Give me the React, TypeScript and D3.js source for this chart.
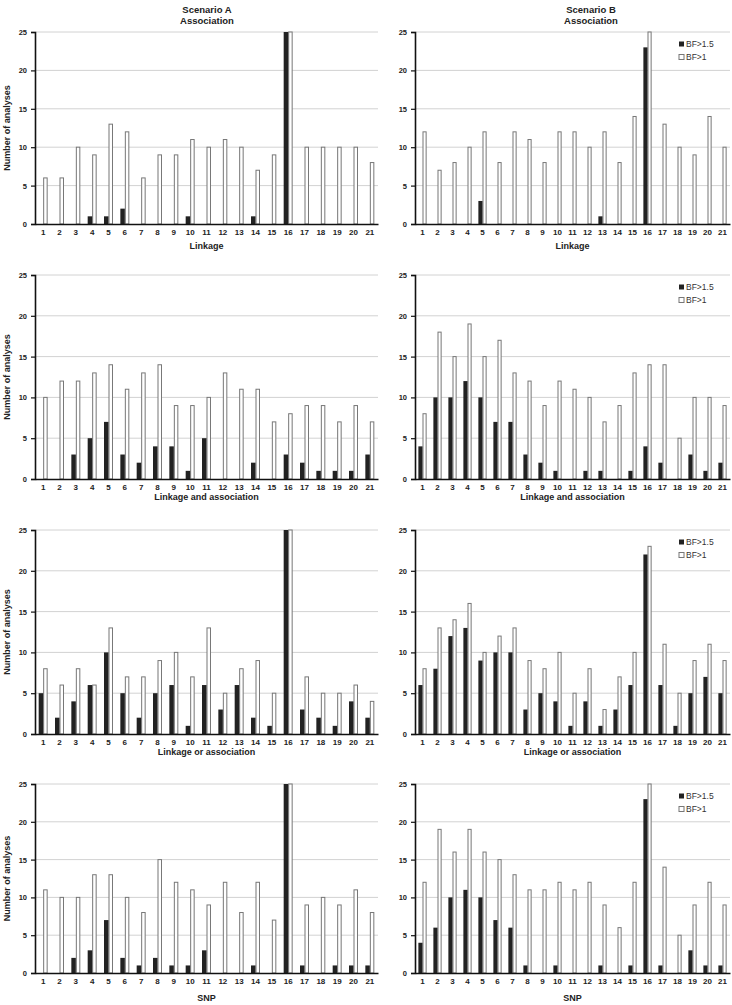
import React, { useRef, useEffect } from "react";
import * as d3 from "d3";

const categories = d3.range(1, 22).map(String);
const yTicks = [0, 5, 10, 15, 20, 25];
const seriesNames = ["BF>1.5", "BF>1"];

// Scenario A
const aLinkBF15 = [0, 0, 0, 1, 1, 2, 0, 0, 0, 1, 0, 0, 0, 1, 0, 25, 0, 0, 0, 0, 0];
const aLinkBF1 = [6, 6, 10, 9, 13, 12, 6, 9, 9, 11, 10, 11, 10, 7, 9, 25, 10, 10, 10, 10, 8];
const aAndBF15 = [0, 0, 3, 5, 7, 3, 2, 4, 4, 1, 5, 0, 0, 2, 0, 3, 2, 1, 1, 1, 3];
const aAndBF1 = [10, 12, 12, 13, 14, 11, 13, 14, 9, 9, 10, 13, 11, 11, 7, 8, 9, 9, 7, 9, 7];
const aOrBF15 = [5, 2, 4, 6, 10, 5, 2, 5, 6, 1, 6, 3, 6, 2, 1, 25, 3, 2, 1, 4, 2];
const aOrBF1 = [8, 6, 8, 6, 13, 7, 7, 9, 10, 7, 13, 5, 8, 9, 5, 25, 7, 5, 5, 6, 4];
const aSnpBF15 = [0, 0, 2, 3, 7, 2, 1, 2, 1, 1, 3, 0, 0, 1, 0, 25, 1, 0, 1, 1, 1];
const aSnpBF1 = [11, 10, 10, 13, 13, 10, 8, 15, 12, 11, 9, 12, 8, 12, 7, 25, 9, 10, 9, 11, 8];

// Scenario B
const bLinkBF15 = [0, 0, 0, 0, 3, 0, 0, 0, 0, 0, 0, 0, 1, 0, 0, 23, 0, 0, 0, 0, 0];
const bLinkBF1 = [12, 7, 8, 10, 12, 8, 12, 11, 8, 12, 12, 10, 12, 8, 14, 25, 13, 10, 9, 14, 10];
const bAndBF15 = [4, 10, 10, 12, 10, 7, 7, 3, 2, 1, 0, 1, 1, 0, 1, 4, 2, 0, 3, 1, 2];
const bAndBF1 = [8, 18, 15, 19, 15, 17, 13, 12, 9, 12, 11, 10, 7, 9, 13, 14, 14, 5, 10, 10, 9];
const bOrBF15 = [6, 8, 12, 13, 9, 10, 10, 3, 5, 4, 1, 4, 1, 3, 6, 22, 6, 1, 5, 7, 5];
const bOrBF1 = [8, 13, 14, 16, 10, 12, 13, 9, 8, 10, 5, 8, 3, 7, 10, 23, 11, 5, 9, 11, 9];
const bSnpBF15 = [4, 6, 10, 11, 10, 7, 6, 1, 0, 1, 0, 0, 1, 0, 1, 23, 1, 0, 3, 1, 1];
const bSnpBF1 = [12, 19, 16, 19, 16, 15, 13, 11, 11, 12, 11, 12, 9, 6, 12, 25, 14, 5, 9, 12, 9];

const xTitles = ["Linkage", "Linkage and association", "Linkage or association", "SNP"];
const colTitles = ["Scenario A", "Scenario B"];

const panels = [
  [aLinkBF15, aLinkBF1, bLinkBF15, bLinkBF1],
  [aAndBF15, aAndBF1, bAndBF15, bAndBF1],
  [aOrBF15, aOrBF1, bOrBF15, bOrBF1],
  [aSnpBF15, aSnpBF1, bSnpBF15, bSnpBF1],
];

function App() {
  const svgRef = useRef<SVGSVGElement>(null);

  useEffect(() => {
    const svg = d3.select(svgRef.current);
    svg.selectAll("*").remove();
    const font = "'Liberation Sans', Arial, sans-serif";

    const rows = [
      { top: 32, bottom: 224, titleY: 246 },
      { top: 275, bottom: 479, titleY: 497 },
      { top: 530, bottom: 734, titleY: 752 },
      { top: 784, bottom: 973, titleY: 998 },
    ];
    const cols = [
      { left: 35, right: 378, headX: 207 },
      { left: 415, right: 730, headX: 591 },
    ];

    cols.forEach((c, ci) => {
      svg.append("text")
        .attr("x", c.headX).attr("y", 13)
        .attr("text-anchor", "middle")
        .attr("font-family", font).attr("font-size", 9.5).attr("font-weight", "bold")
        .attr("fill", "#222")
        .text(colTitles[ci]);
      svg.append("text")
        .attr("x", c.headX).attr("y", 24)
        .attr("text-anchor", "middle")
        .attr("font-family", font).attr("font-size", 9.5).attr("font-weight", "bold")
        .attr("fill", "#222")
        .text("Association");
    });

    rows.forEach((r, ri) => {
      cols.forEach((c, ci) => {
        const black = panels[ri][ci * 2];
        const white = panels[ri][ci * 2 + 1];

        const x0 = d3.scaleBand().domain(categories).range([c.left, c.right])
          .paddingInner(0.45).paddingOuter(0.225);
        const x1 = d3.scaleBand().domain(seriesNames).range([0, x0.bandwidth()]);
        const y = d3.scaleLinear().domain([0, 25]).range([r.bottom, r.top]);

        const g = svg.append("g");

        // gridlines
        g.selectAll(".grid")
          .data(yTicks.filter((t) => t > 0))
          .enter()
          .append("line")
          .attr("x1", c.left).attr("x2", c.right)
          .attr("y1", (d) => y(d)).attr("y2", (d) => y(d))
          .attr("stroke", "#d2d2d2").attr("stroke-width", 1);

        const rowsData = categories.map((cat, i) => ({ cat, b: black[i], w: white[i] }));

        g.selectAll(".wbar")
          .data(rowsData.filter((d) => d.w > 0))
          .enter()
          .append("rect")
          .attr("x", (d) => x0(d.cat)! + x1("BF>1")! + 0.5)
          .attr("y", (d) => y(d.w))
          .attr("width", x1.bandwidth() - 1)
          .attr("height", (d) => r.bottom - y(d.w))
          .attr("fill", "#fff")
          .attr("stroke", "#777")
          .attr("stroke-width", 1);

        g.selectAll(".bbar")
          .data(rowsData.filter((d) => d.b > 0))
          .enter()
          .append("rect")
          .attr("x", (d) => x0(d.cat)! + x1("BF>1.5")!)
          .attr("y", (d) => y(d.b))
          .attr("width", x1.bandwidth())
          .attr("height", (d) => r.bottom - y(d.b))
          .attr("fill", "#222");

        // y axis
        const yAxis = g.append("g")
          .attr("transform", `translate(${c.left},0)`)
          .call(d3.axisLeft(y).tickValues(yTicks).tickSize(4).tickPadding(4));
        yAxis.select(".domain").attr("stroke", "#111").attr("stroke-width", 1.6);
        yAxis.selectAll(".tick line").attr("stroke", "#111").attr("stroke-width", 1.2);
        yAxis.selectAll("text")
          .attr("font-family", font).attr("font-size", 7.5).attr("font-weight", "bold").attr("fill", "#222");

        // x axis
        const xAxis = g.append("g")
          .attr("transform", `translate(0,${r.bottom})`)
          .call(d3.axisBottom(x0).tickSize(0).tickPadding(5));
        xAxis.select(".domain").attr("stroke", "#111").attr("stroke-width", 1.6);
        xAxis.selectAll("text")
          .attr("font-family", font).attr("font-size", 8).attr("font-weight", "bold").attr("fill", "#222");

        // x title
        g.append("text")
          .attr("x", (c.left + c.right) / 2).attr("y", r.titleY)
          .attr("dy", "0.35em")
          .attr("text-anchor", "middle")
          .attr("font-family", font).attr("font-size", 9).attr("font-weight", "bold").attr("fill", "#222")
          .text(xTitles[ri]);

        if (ci === 0) {
          g.append("text")
            .attr("transform", `translate(7,${(r.top + r.bottom) / 2}) rotate(-90)`)
            .attr("text-anchor", "middle")
            .attr("dy", "0.35em")
            .attr("font-family", font).attr("font-size", 9).attr("font-weight", "bold").attr("fill", "#222")
            .text("Number of analyses");
        } else {
          const lg = g.append("g").attr("transform", `translate(679,${r.top + 12})`);
          seriesNames.forEach((s, si) => {
            lg.append("rect")
              .attr("x", 0).attr("y", si * 13 - 2.5)
              .attr("width", 5).attr("height", 5)
              .attr("fill", si === 0 ? "#222" : "#fff")
              .attr("stroke", si === 0 ? "none" : "#777");
            lg.append("text")
              .attr("x", 7).attr("y", si * 13)
              .attr("dy", "0.35em")
              .attr("font-family", font).attr("font-size", 8.5).attr("fill", "#333")
              .text(s);
          });
        }
      });
    });
  }, []);

  return (
    <svg
      ref={svgRef}
      width={732}
      height={1005}
      style={{ position: "absolute", left: 0, top: 0, background: "#fff" }}
    ></svg>
  );
}

export default App;
